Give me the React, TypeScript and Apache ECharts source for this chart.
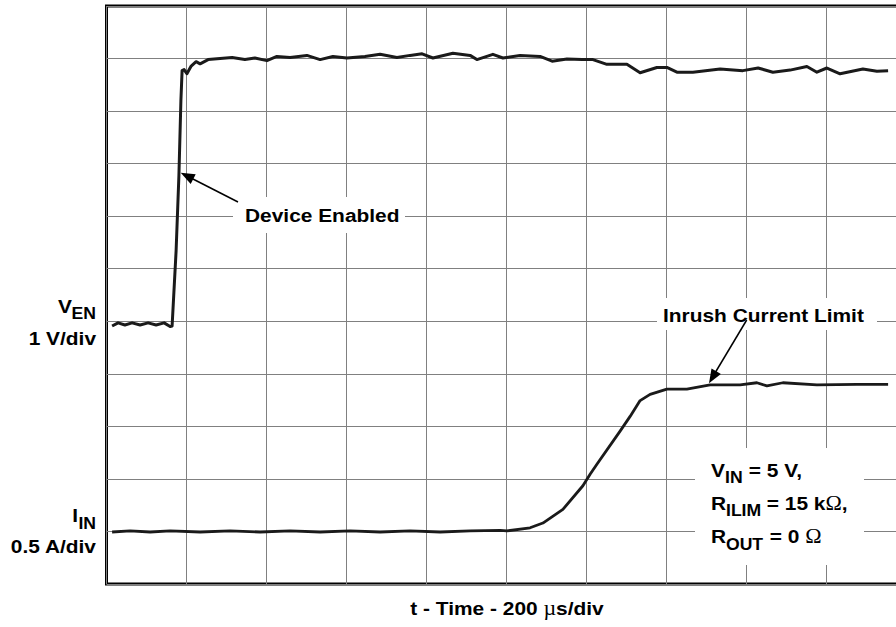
import React, { useEffect, useRef } from "react";
import * as echarts from "echarts";

// Time in microseconds (200 µs per division), amplitude in screen divisions
const enTime = [14, 29, 46, 64, 84, 104, 124, 144, 159, 164, 174, 181, 186, 189, 194, 201, 211, 224, 234, 254, 284, 314, 346, 371, 401, 426, 459, 501, 534, 566, 601, 646, 684, 726, 759, 789, 816, 866, 909, 926, 966, 991, 1034, 1084, 1114, 1151, 1189, 1216, 1251, 1301, 1334, 1376, 1401, 1426, 1466, 1534, 1591, 1629, 1666, 1709, 1751, 1776, 1801, 1834, 1891, 1926, 1954];
const enDiv = [4.91, 4.97, 4.93, 4.97, 4.93, 4.97, 4.93, 4.97, 4.9, 4.91, 6.34, 7.77, 9.2, 9.77, 9.79, 9.71, 9.85, 9.94, 9.9, 9.98, 10.0, 10.02, 9.98, 10.01, 9.96, 10.04, 10.02, 10.06, 9.98, 10.04, 10.01, 10.04, 10.08, 10.02, 10.06, 10.09, 10.01, 10.1, 10.06, 9.98, 10.08, 10.01, 10.06, 10.04, 9.95, 9.99, 9.98, 9.98, 9.89, 9.89, 9.73, 9.83, 9.83, 9.74, 9.74, 9.8, 9.77, 9.82, 9.74, 9.78, 9.85, 9.74, 9.82, 9.71, 9.8, 9.76, 9.77];

const inTime = [14, 59, 109, 159, 234, 309, 384, 459, 534, 609, 684, 759, 834, 909, 984, 1001, 1059, 1091, 1141, 1191, 1209, 1226, 1284, 1309, 1334, 1359, 1401, 1451, 1509, 1584, 1626, 1651, 1691, 1776, 1876, 1954];
const inDiv = [0.99, 1.01, 0.99, 1.01, 0.99, 1.01, 0.99, 1.01, 0.99, 1.01, 0.99, 1.01, 0.99, 1.01, 1.02, 1.01, 1.07, 1.16, 1.42, 1.87, 2.09, 2.28, 2.91, 3.19, 3.49, 3.61, 3.71, 3.71, 3.79, 3.79, 3.83, 3.77, 3.83, 3.79, 3.8, 3.8];

const xMin = 0;
const xMax = 2000;
const xStep = 200;
const yMin = 0;
const yMax = 11;
const yStep = 1;

const SANS = "'Liberation Sans', Arial, sans-serif";
const SERIF = "'Liberation Serif', 'DejaVu Serif', serif";
const SX = 1.1;

function txt(x: number, y: number, text: string, size: number, align: string = "left", rich?: any) {
  return {
    type: "text",
    x,
    y,
    scaleX: SX,
    z: 20,
    style: {
      text,
      fontFamily: SANS,
      fontWeight: "bold",
      fontSize: size,
      fill: "#000",
      align,
      verticalAlign: "middle",
      rich,
    },
  };
}

const omegaRich = (size: number) => ({
  a: { fontFamily: SANS, fontWeight: "bold", fontSize: size, fill: "#000" },
  o: { fontFamily: SERIF, fontWeight: "normal", fontSize: size + 1, fill: "#000" },
});

export default function App() {
  const ref = useRef<HTMLDivElement>(null);
  useEffect(() => {
    if (!ref.current) return;
    const chart = echarts.init(ref.current, null, { renderer: "svg" });
    const enData = enTime.map((t, i) => [t, enDiv[i]]);
    const inData = inTime.map((t, i) => [t, inDiv[i]]);
    const main = 19;
    const sub = 16;
    chart.setOption({
      animation: false,
      backgroundColor: "#fff",
      grid: {
        left: 106.5,
        top: 6,
        width: 800,
        height: 578,
        show: true,
        borderColor: "#000",
        borderWidth: 3,
        backgroundColor: "transparent",
      },
      xAxis: {
        type: "value",
        min: xMin,
        max: xMax,
        interval: xStep,
        axisLine: { show: false },
        axisTick: { show: false },
        axisLabel: { show: false },
        splitLine: { show: true, lineStyle: { color: "#808080", width: 1 } },
      },
      yAxis: {
        type: "value",
        min: yMin,
        max: yMax,
        interval: yStep,
        axisLine: { show: false },
        axisTick: { show: false },
        axisLabel: { show: false },
        splitLine: { show: true, lineStyle: { color: "#808080", width: 1 } },
      },
      series: [
        {
          name: "VEN",
          type: "line",
          data: enData,
          showSymbol: false,
          symbol: "none",
          lineStyle: { color: "#1a1a1a", width: 3, join: "round" },
          z: 5,
        },
        {
          name: "IIN",
          type: "line",
          data: inData,
          showSymbol: false,
          symbol: "none",
          lineStyle: { color: "#1a1a1a", width: 2.8, join: "round" },
          z: 5,
        },
      ],
      graphic: [
        // white boxes behind annotations
        { type: "rect", z: 15, shape: { x: 233, y: 197, width: 172, height: 36 }, style: { fill: "#fff" } },
        { type: "rect", z: 15, shape: { x: 657, y: 298, width: 220, height: 32 }, style: { fill: "#fff" } },
        { type: "rect", z: 15, shape: { x: 695, y: 448, width: 169, height: 117 }, style: { fill: "#fff" } },
        // Device Enabled annotation
        txt(245, 215, "Device Enabled", main),
        { type: "line", z: 20, shape: { x1: 238, y1: 202, x2: 191, y2: 178 }, style: { stroke: "#000", lineWidth: 1.5 } },
        { type: "polygon", z: 20, shape: { points: [[180.7, 172.7], [195.7, 174.2], [190.7, 184]] }, style: { fill: "#000" } },
        // Inrush Current Limit annotation
        txt(663, 315, "Inrush Current Limit", main),
        { type: "line", z: 20, shape: { x1: 746.7, y1: 320, x2: 715, y2: 373 }, style: { stroke: "#000", lineWidth: 1.5 } },
        { type: "polygon", z: 20, shape: { points: [[709, 383.3], [720.9, 374.1], [711.5, 368.5]] }, style: { fill: "#000" } },
        // Left labels
        txt(72, 306.5, "V", main, "right"),
        txt(96, 314, "EN", sub, "right"),
        txt(96, 338, "1 V/div", main, "right"),
        txt(78, 515.5, "I", main, "right"),
        txt(96, 523.5, "IN", sub, "right"),
        txt(96, 546, "0.5 A/div", main, "right"),
        // Conditions
        txt(711, 470, "V", main),
        txt(725, 478, "IN", sub),
        txt(743, 470, " = 5 V,", main),
        txt(711, 503, "R", main),
        txt(726, 511, "ILIM", sub),
        txt(761, 503, "{a| = 15 k}{o|Ω}{a|,}", main, "left", omegaRich(main)),
        txt(711, 536.5, "R", main),
        txt(726, 545, "OUT", sub),
        txt(764, 536.5, "{a| = 0 }{o|Ω}", main, "left", omegaRich(main)),
        // x axis title
        txt(507, 608, "{a|t - Time - 200 }{o|µ}{a|s/div}", main, "center", omegaRich(main)),
      ],
    });
    return () => chart.dispose();
  }, []);
  return (
    <div style={{ position: "absolute", left: 0, top: 0, width: 896, height: 627, overflow: "hidden" }}>
      <div ref={ref} style={{ width: 920, height: 627 }} />
    </div>
  );
}
